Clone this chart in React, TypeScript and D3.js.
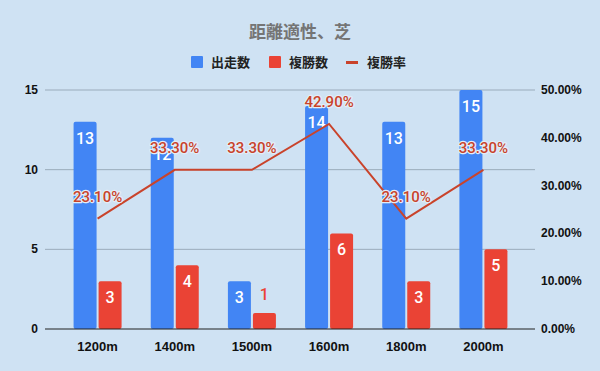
import * as d3 from "d3";

const categories = ["1200m", "1400m", "1500m", "1600m", "1800m", "2000m"];
const runs = [13, 12, 3, 14, 13, 15];
const places = [3, 4, 1, 6, 3, 5];
const placeRate = [0.231, 0.333, 0.333, 0.429, 0.231, 0.333];
const leftTicks = [0, 5, 10, 15];
const rightTicks = [0, 0.1, 0.2, 0.3, 0.4, 0.5];

const BLUE = "#4285f4";
const RED = "#ea4335";
const LINE = "#c9432b";
const BG = "#cfe2f3";
const FONT = "Roboto, Arial, sans-serif";
const CJK = "'Noto Sans CJK JP', sans-serif";
const AXIS_FONT = "Arial, 'Liberation Sans', sans-serif";

export default function App() {
  const width = 600;
  const height = 371;
  const left = 45;
  const right = 535;
  const top = 90;
  const bottom = 329;

  const x = d3.scaleBand<string>()
    .domain(categories)
    .range([59, 522]);
  const y = d3.scaleLinear().domain([0, 15]).range([bottom, top]);
  const y2 = d3.scaleLinear().domain([0, 0.5]).range([bottom, top]);
  const barW = 23;
  const gap = 2;
  const cx = (c: string) => (x(c) ?? 0) + x.bandwidth() / 2;

  const line = d3.line<number>()
    .x((_, i) => cx(categories[i]))
    .y(d => y2(d));

  return (
    <svg width={width} height={height} style={{ position: "absolute", left: 0, top: 0 }}>
      <rect width={width} height={height} fill={BG} />
      <text x={300} y={38} textAnchor="middle" fontFamily={CJK} fontSize={17} fontWeight="bold" fill="#757575">
        距離適性、芝
      </text>
      {/* legend */}
      <g fontFamily={CJK} fontSize={13} fontWeight="bold" fill="#222">
        <rect x={191} y={56} width={12} height={12} fill={BLUE} rx={1} />
        <text x={211} y={67}>出走数</text>
        <rect x={269} y={56} width={12} height={12} fill={RED} rx={1} />
        <text x={289} y={67}>複勝数</text>
        <rect x={346} y={61} width={12} height={3} fill={LINE} />
        <text x={367} y={67}>複勝率</text>
      </g>
      {/* grid */}
      {leftTicks.filter(t => t > 0).map(t => (
        <line key={t} x1={left} x2={right} y1={y(t)} y2={y(t)} stroke="#9aabbb" strokeWidth={1} />
      ))}
      {/* bars */}
      {categories.map((c, i) => (
        <g key={c}>
          <rect x={cx(c) - gap / 2 - barW} y={y(runs[i])} width={barW} height={y(0) - y(runs[i])} fill={BLUE} rx={2} />
          <rect x={cx(c) + gap / 2} y={y(places[i])} width={barW} height={y(0) - y(places[i])} fill={RED} rx={2} />
        </g>
      ))}
      <line x1={left} x2={right} y1={bottom} y2={bottom} stroke="#222" strokeWidth={1.2} />
      {/* bar labels */}
      <g fontFamily={FONT} fontSize={16} fontWeight={500} textAnchor="middle">
        {categories.map((c, i) => (
          <g key={c}>
            <text x={cx(c) - gap / 2 - barW / 2} y={y(runs[i]) + 22} fill="#fff">{runs[i]}</text>
            {y(0) - y(places[i]) > 26 ? (
              <text x={cx(c) + gap / 2 + barW / 2} y={y(places[i]) + 22} fill="#fff">{places[i]}</text>
            ) : (
              <text x={cx(c) + gap / 2 + barW / 2} y={y(places[i]) - 13} fill={RED}>{places[i]}</text>
            )}
          </g>
        ))}
      </g>
      {/* line */}
      <path d={line(placeRate) ?? ""} fill="none" stroke={LINE} strokeWidth={2} />
      <g fontFamily={FONT} fontSize={15} fontWeight={500} textAnchor="middle">
        {categories.map((c, i) => (
          <text key={c} x={cx(c)} y={y2(placeRate[i]) - 17} fill={LINE}
            stroke="#e3edf7" strokeWidth={2.5} paintOrder="stroke" strokeLinejoin="round">
            {(placeRate[i] * 100).toFixed(2) + "%"}
          </text>
        ))}
      </g>
      {/* axes */}
      <g fontFamily={AXIS_FONT} fontSize={12} fontWeight="bold" fill="#111">
        {leftTicks.map(t => (
          <text key={t} x={38} y={y(t) + 4} textAnchor="end">{t}</text>
        ))}
        {rightTicks.map(t => (
          <text key={t} x={541} y={y2(t) + 4}>{(t * 100).toFixed(2) + "%"}</text>
        ))}
        {categories.map(c => (
          <text key={c} x={cx(c)} y={351} textAnchor="middle" fontSize={13}>{c}</text>
        ))}
      </g>
    </svg>
  );
}
